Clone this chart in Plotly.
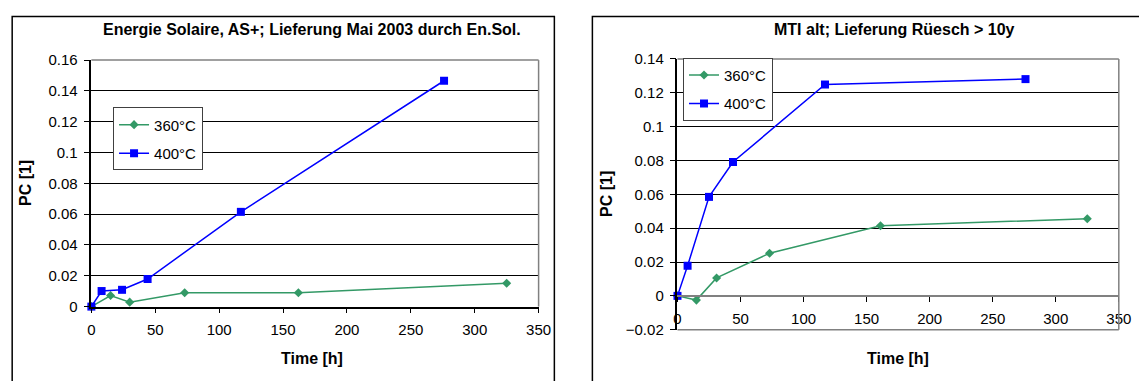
import plotly.graph_objects as go

W, H = 1139, 381

# ---------------- data ----------------
series_names = ["360°C", "400°C"]

time_l_360 = [0, 15, 30, 73, 162, 325]
pc_l_360 = [0, 0.0072, 0.0029, 0.0090, 0.0090, 0.0152]
time_l_400 = [0, 8, 24, 44, 117, 276]
pc_l_400 = [0, 0.0101, 0.0109, 0.0179, 0.0615, 0.1466]

time_r_360 = [0, 15, 31, 73, 161, 325]
pc_r_360 = [0, -0.0025, 0.0106, 0.0252, 0.0414, 0.0456]
time_r_400 = [0, 8, 25, 44, 117, 276]
pc_r_400 = [0, 0.0178, 0.0585, 0.0791, 0.1249, 0.1281]

title_left = "Energie Solaire, AS+; Lieferung Mai 2003 durch En.Sol."
title_right = "MTI alt; Lieferung Rüesch > 10y"
x_title = "Time [h]"
y_title = "PC [1]"

x_range = [0, 350]
y_range_left = [0, 0.16]
y_range_right = [-0.02, 0.14]

# ---------------- style ----------------
FONT = "Liberation Sans, Arial, sans-serif"
GREEN = "#339966"
BLUE = "#0000FF"
GRAY = "#808080"


def px(p):
    return p / W


def py(p):
    return 1 - p / H


L_x0, L_x1, L_y0, L_y1 = 88.7, 542.7, 53.5, 311.5
R_x0, R_x1, R_y0, R_y1 = 683.7, 1131.7, 52.3, 335.7

ld = [py(L_y1), py(L_y0)]
rd = [py(R_y1), py(R_y0)]
# position of right x-axis at value 0
r_zero = rd[0] + (0 - y_range_right[0]) / (y_range_right[1] - y_range_right[0]) * (rd[1] - rd[0])

fig = go.Figure()

def add_series(x, y, name, color, symbol, size, xa, ya, legend, group):
    fig.add_trace(go.Scatter(
        x=x, y=y, name=name, mode="lines+markers",
        line=dict(color=color, width=1.5),
        marker=dict(color=color, symbol=symbol, size=size),
        xaxis=xa, yaxis=ya, legend=legend, legendgroup=group, cliponaxis=False,
    ))

add_series(time_l_360, pc_l_360, series_names[0], GREEN, "diamond", 7, "x", "y", "legend", "a")
add_series(time_l_400, pc_l_400, series_names[1], BLUE, "square", 8, "x", "y", "legend", "b")
add_series(time_r_360, pc_r_360, series_names[0], GREEN, "diamond", 7, "x2", "y2", "legend2", "c")
add_series(time_r_400, pc_r_400, series_names[1], BLUE, "square", 8, "x2", "y2", "legend2", "d")

tickfont = dict(family=FONT, size=15, color="black")

common_x = dict(range=x_range, dtick=50, showgrid=False, zeroline=False,
                ticks="outside", ticklen=5, tickcolor="black", tickwidth=1,
                showline=True, tickfont=tickfont, ticklabelstandoff=4)
common_y = dict(dtick=0.02, showgrid=True, gridcolor="black", gridwidth=1,
                zeroline=False, ticks="outside", ticklen=6, tickcolor="black",
                tickwidth=1, showline=True, linecolor="black", linewidth=1.5,
                tickfont=tickfont, ticklabelstandoff=3)

legend_common = dict(xanchor="left", yanchor="top", bgcolor="white",
                     bordercolor="#404040", borderwidth=1,
                     font=dict(family=FONT, size=15), tracegroupgap=6,
                     itemwidth=30)

fig.update_layout(
    width=W, height=H,
    margin=dict(l=0, r=0, t=0, b=0),
    paper_bgcolor="white", plot_bgcolor="white",
    font=dict(family=FONT, size=15, color="black"),
    xaxis=dict(domain=[px(L_x0), px(L_x1)], anchor="y", linecolor="black",
               linewidth=1.5, **common_x),
    yaxis=dict(domain=ld, range=y_range_left, anchor="x", **common_y),
    xaxis2=dict(domain=[px(R_x0), px(R_x1)], anchor="free", position=r_zero,
                linecolor=GRAY, linewidth=2, **common_x),
    yaxis2=dict(domain=rd, range=y_range_right, anchor="x2", **common_y),
    legend=dict(x=px(110.7), y=py(103), **legend_common),
    legend2=dict(x=px(689.3), y=py(51), **legend_common),
    showlegend=True,
)

shapes = [
    # chart area borders
    dict(type="rect", xref="paper", yref="paper", x0=px(8.3), x1=px(558.7),
         y0=py(420), y1=py(7.8), line=dict(color="black", width=1.5), layer="below"),
    dict(type="rect", xref="paper", yref="paper", x0=px(597.3), x1=px(1180),
         y0=py(420), y1=py(7.8), line=dict(color="black", width=1.5), layer="below"),
    # plot area borders (gray top/right, and bottom on right chart)
    dict(type="line", xref="x domain", yref="y domain", x0=0, x1=1, y0=1, y1=1,
         line=dict(color=GRAY, width=1.5)),
    dict(type="line", xref="x domain", yref="y domain", x0=1, x1=1, y0=0, y1=1,
         line=dict(color=GRAY, width=1.5)),
    dict(type="line", xref="x2 domain", yref="y2 domain", x0=0, x1=1, y0=1, y1=1,
         line=dict(color=GRAY, width=1.5)),
    dict(type="line", xref="x2 domain", yref="y2 domain", x0=1, x1=1, y0=0, y1=1,
         line=dict(color=GRAY, width=1.5)),
    dict(type="line", xref="x2 domain", yref="y2 domain", x0=0, x1=1, y0=0, y1=0,
         line=dict(color=GRAY, width=1.5)),
]
fig.update_layout(shapes=shapes)

ann = [
    dict(text=f"<b>{title_left}</b>", x=px(312.7), y=py(21.7)),
    dict(text=f"<b>{title_right}</b>", x=px(904), y=py(21.7)),
    dict(text=f"<b>{x_title}</b>", x=px(312.4), y=py(365.7)),
    dict(text=f"<b>{x_title}</b>", x=px(907.7), y=py(365.7)),
    dict(text=f"<b>{y_title}</b>", x=px(22.5), y=py(182), textangle=-90),
    dict(text=f"<b>{y_title}</b>", x=px(611.8), y=py(194), textangle=-90),
]
for a in ann:
    fig.add_annotation(xref="paper", yref="paper", showarrow=False,
                       xanchor="center", yanchor="middle",
                       font=dict(family=FONT, size=16, color="black"), **a)

# remove the browser's default 8px page margin so the figure fills the window
fig.write_html(
    "out.html",
    config={"displayModeBar": False},
    post_script="document.body.style.margin='0';document.body.style.overflow='hidden';",
)
